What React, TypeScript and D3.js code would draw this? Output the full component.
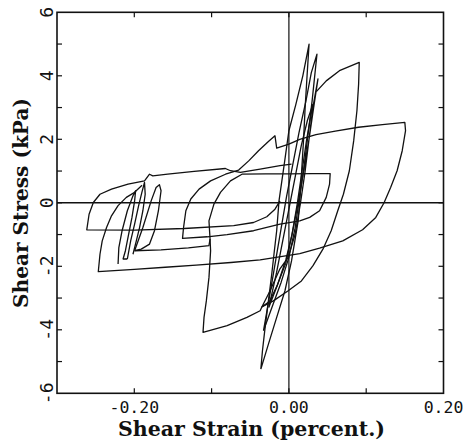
import React from 'react';
import * as d3 from 'd3';

type Pt = [number, number];

// ---- axis values ----
const xDomain: [number, number] = [-0.3, 0.2];
const yDomain: [number, number] = [-6, 6];
const xTickValues = [-0.2, -0.1, 0.0, 0.1];
const xLabelValues = [-0.2, 0.0, 0.2];
const xLabelTexts = ['-0.20', '0.00', '0.20'];
const yTickValues = [-5, -4, -3, -2, -1, 0, 1, 2, 3, 4, 5];
const yLabelValues = [6, 4, 2, 0, -2, -4, -6];
const yLabelTexts = ['6', '4', '2', '0', '-2', '-4', '-6'];
const xTitle = 'Shear Strain (percent.)';
const yTitle = 'Shear Stress (kPa)';

// ---- traced records [strain %, stress kPa] ----
const outerLoop: Pt[] = [
  [0.0141, -0.57], [-0.0115, -0.67], [-0.0457, -0.88], [-0.08, -1.0], [-0.1056, -1.07], [-0.1376, -1.12],
  [-0.1363, -0.78], [-0.1333, -0.25], [-0.1269, 0.12], [-0.1162, 0.43], [-0.1013, 0.69], [-0.082, 0.9],
  [-0.065, 1.03], [-0.052, 1.32], [-0.0393, 1.64], [-0.0265, 1.93], [-0.018, 2.11],
  [-0.0158, 1.72], [0.0, 1.85], [0.014, 2.0], [0.035, 2.15], [0.06, 2.26], [0.09, 2.38], [0.121, 2.46], [0.15, 2.53],
  [0.1509, 2.27], [0.1466, 1.64], [0.14, 1.01], [0.1316, 0.48], [0.1231, 0.0], [0.1124, -0.46], [0.0953, -0.85],
  [0.0697, -1.2], [0.0397, -1.43], [0.0141, -1.6], [-0.0372, -1.8], [-0.075, -1.88], [-0.12, -1.96],
  [-0.16, -2.03], [-0.2, -2.1], [-0.2466, -2.17],
  [-0.2444, -1.62], [-0.2415, -1.2], [-0.2359, -0.78], [-0.2295, -0.41], [-0.221, -0.09], [-0.2103, 0.17],
  [-0.1996, 0.33], [-0.19, 0.55],
];

const middleLoop: Pt[] = [
  [-0.1996, -1.51], [-0.1654, -1.48], [-0.13, -1.42], [-0.1034, -1.35], [-0.102, -1.14],
  [-0.1034, -0.57], [-0.097, -0.04], [-0.0885, 0.33], [-0.0756, 0.69], [-0.0607, 0.9],
  [-0.03, 0.91], [0.0, 0.91], [0.03, 0.92], [0.0534, 0.92],
  [0.0526, 0.59], [0.0483, 0.17], [0.0397, -0.25], [0.0269, -0.46], [0.0141, -0.57],
];

const leftLoop: Pt[] = [
  [-0.0115, 0.06], [-0.018, -0.2], [-0.0286, -0.44], [-0.0457, -0.62], [-0.0714, -0.72], [-0.1355, -0.81],
  [-0.1996, -0.86], [-0.2615, -0.85], [-0.2585, -0.36], [-0.253, 0.01], [-0.2444, 0.27], [-0.2295, 0.43],
  [-0.2081, 0.59], [-0.1868, 0.69], [-0.1803, 0.9], [-0.1761, 0.85], [-0.1568, 0.9], [-0.1226, 0.99],
  [-0.0821, 1.08], [-0.0756, 1.01], [-0.0628, 0.96], [-0.0372, 1.06], [-0.0115, 1.17], [0.0034, 1.22],
];

const lowerLoop: Pt[] = [
  [-0.102, -1.14], [-0.1013, -1.51], [-0.1034, -2.35], [-0.1068, -3.09], [-0.1098, -3.61], [-0.1111, -4.08],
  [-0.0799, -3.87], [-0.0543, -3.61], [-0.0372, -3.4], [-0.035, -3.28],
  [-0.0201, -3.09], [-0.0009, -2.77], [0.0162, -2.46], [0.0312, -1.98], [0.044, -1.46], [0.0547, -0.88],
  [0.0632, -0.25], [0.0705, 0.27], [0.0782, 1.01], [0.0838, 1.95], [0.088, 2.9], [0.0902, 3.74], [0.091, 4.42],
  [0.0654, 4.16], [0.0483, 3.84], [0.0355, 3.5],
];

const steepLoop1: Pt[] = [
  [-0.0363, -5.24], [-0.0265, -4.45], [-0.0158, -3.61], [-0.0051, -2.77], [0.0034, -1.83], [0.0077, -1.2],
  [0.012, -0.57], [0.0141, 0.06], [0.0165, 1.0], [0.019, 2.0], [0.021, 3.0], [0.0235, 4.0], [0.0261, 5.0],
  [0.018, 4.0], [0.009, 3.1], [0.0, 2.27], [-0.006, 1.22], [-0.0128, 0.06], [-0.0158, -0.88], [-0.0188, -1.51],
  [-0.0222, -2.25], [-0.0265, -3.09], [-0.0308, -3.93], [-0.0342, -4.66], [-0.0363, -5.24],
];

const steepLoop2: Pt[] = [
  [-0.0329, -4.03], [-0.022, -3.3], [-0.01, -2.5], [0.0, -1.72], [0.008, -0.8], [0.014, 0.2], [0.02, 1.2],
  [0.025, 2.2], [0.03, 3.2], [0.0363, 4.68], [0.029, 4.1], [0.022, 3.2], [0.013, 2.2], [0.005, 1.2],
  [-0.003, 0.2], [-0.01, -0.8], [-0.017, -1.8], [-0.024, -2.8], [-0.0329, -4.03],
];

const steepLoop3: Pt[] = [
  [-0.035, -3.28], [-0.025, -2.8], [-0.012, -2.1], [-0.001, -1.72], [0.008, -1.0], [0.015, 0.0], [0.021, 1.0],
  [0.026, 2.0], [0.031, 3.0], [0.0376, 3.9], [0.032, 3.0], [0.026, 2.0], [0.019, 1.0], [0.012, 0.0],
  [0.004, -1.0], [-0.004, -1.8], [-0.015, -2.6], [-0.025, -3.1], [-0.035, -3.28],
];

const steepLoop4: Pt[] = [
  [-0.026, -3.3], [-0.015, -2.6], [-0.004, -1.9], [0.004, -1.0], [0.011, 0.0], [0.017, 1.0], [0.023, 2.0],
  [0.031, 3.1], [0.024, 2.6], [0.016, 1.8], [0.008, 0.8], [0.0, -0.2], [-0.008, -1.2], [-0.016, -2.2], [-0.026, -3.3],
];

const narrowLoop1: Pt[] = [
  [-0.221, -1.93], [-0.22, -1.41], [-0.2158, -0.88], [-0.209, -0.25], [-0.2017, 0.22], [-0.1983, 0.38],
  [-0.1996, 0.06], [-0.203, -0.46], [-0.2073, -0.99], [-0.2115, -1.51], [-0.2145, -1.77], [-0.209, -1.77],
];

const narrowLoop2: Pt[] = [
  [-0.209, -1.77], [-0.2047, -1.2], [-0.1996, -0.67], [-0.1944, -0.09], [-0.1902, 0.33], [-0.1868, 0.64],
  [-0.1859, 0.27], [-0.1889, -0.25], [-0.1932, -0.78], [-0.1974, -1.2], [-0.2017, -1.62],
];

const narrowLoop3: Pt[] = [
  [-0.1996, -1.51], [-0.191, -1.46], [-0.1803, -1.3], [-0.1739, -0.88], [-0.1688, -0.25], [-0.1654, 0.38],
  [-0.1675, 0.57], [-0.1718, 0.48], [-0.1782, 0.06], [-0.1889, -0.78], [-0.1996, -1.51],
];

const records: Pt[][] = [
  outerLoop, middleLoop, leftLoop, lowerLoop,
  steepLoop1, steepLoop2, steepLoop3, steepLoop4,
  narrowLoop1, narrowLoop2, narrowLoop3,
];

export default function App() {
  const W = 467;
  const H = 444;
  const x = d3.scaleLinear().domain(xDomain).range([57, 443.5]);
  const y = d3.scaleLinear().domain(yDomain).range([393.3, 12.3]);
  const line = d3.line<Pt>().x((d) => x(d[0])).y((d) => y(d[1]));
  const [x0, x1] = x.range();
  const [yb, yt] = y.range();
  const tick = 5;
  const ink = '#111';
  return (
    <svg width={W} height={H} style={{ position: 'absolute', left: 0, top: 0, background: '#fff' }}>
      <rect x={0} y={0} width={W} height={H} fill="#fff" />
      {/* frame */}
      <rect x={x0} y={yt} width={x1 - x0} height={yb - yt} fill="none" stroke={ink} strokeWidth={1.6} />
      {/* zero lines */}
      <line x1={x0} x2={x1} y1={y(0)} y2={y(0)} stroke={ink} strokeWidth={1.6} />
      <line x1={x(0)} x2={x(0)} y1={yt} y2={yb} stroke={ink} strokeWidth={1.2} />
      {/* ticks */}
      {xTickValues.map((v) => (
        <g key={'xt' + v}>
          <line x1={x(v)} x2={x(v)} y1={yb} y2={yb - tick} stroke={ink} strokeWidth={1.2} />
          <line x1={x(v)} x2={x(v)} y1={yt} y2={yt + tick} stroke={ink} strokeWidth={1.2} />
        </g>
      ))}
      {yTickValues.map((v) => (
        <g key={'yt' + v}>
          <line x1={x0} x2={x0 + tick} y1={y(v)} y2={y(v)} stroke={ink} strokeWidth={1.2} />
          <line x1={x1} x2={x1 - tick} y1={y(v)} y2={y(v)} stroke={ink} strokeWidth={1.2} />
        </g>
      ))}
      {/* data */}
      {records.map((r, i) => (
        <path key={'r' + i} d={line(r) || ''} fill="none" stroke={ink} strokeWidth={1.3} strokeLinejoin="round" />
      ))}
      {/* tick labels */}
      {xLabelValues.map((v, i) => (
        <text key={'xl' + v} x={x(v)} y={413} textAnchor="middle" fontFamily="DejaVu Sans Mono" fontSize={16.5} fill={ink}>
          {xLabelTexts[i]}
        </text>
      ))}
      {yLabelValues.map((v, i) => (
        <text
          key={'yl' + v}
          transform={`translate(53,${y(v)}) rotate(-90)`}
          textAnchor="middle"
          fontFamily="DejaVu Sans Mono"
          fontSize={18}
          fill={ink}
        >
          {yLabelTexts[i]}
        </text>
      ))}
      {/* axis titles */}
      <text
        x={251.5}
        y={436}
        textAnchor="middle"
        fontFamily="DejaVu Serif"
        fontWeight="bold"
        fontSize={21}
        textLength={267}
        lengthAdjust="spacingAndGlyphs"
        fill={ink}
      >
        {xTitle}
      </text>
      <text
        transform={`translate(28,203) rotate(-90)`}
        textAnchor="middle"
        fontFamily="DejaVu Serif"
        fontWeight="bold"
        fontSize={21}
        textLength={210}
        lengthAdjust="spacingAndGlyphs"
        fill={ink}
      >
        {yTitle}
      </text>
    </svg>
  );
}
